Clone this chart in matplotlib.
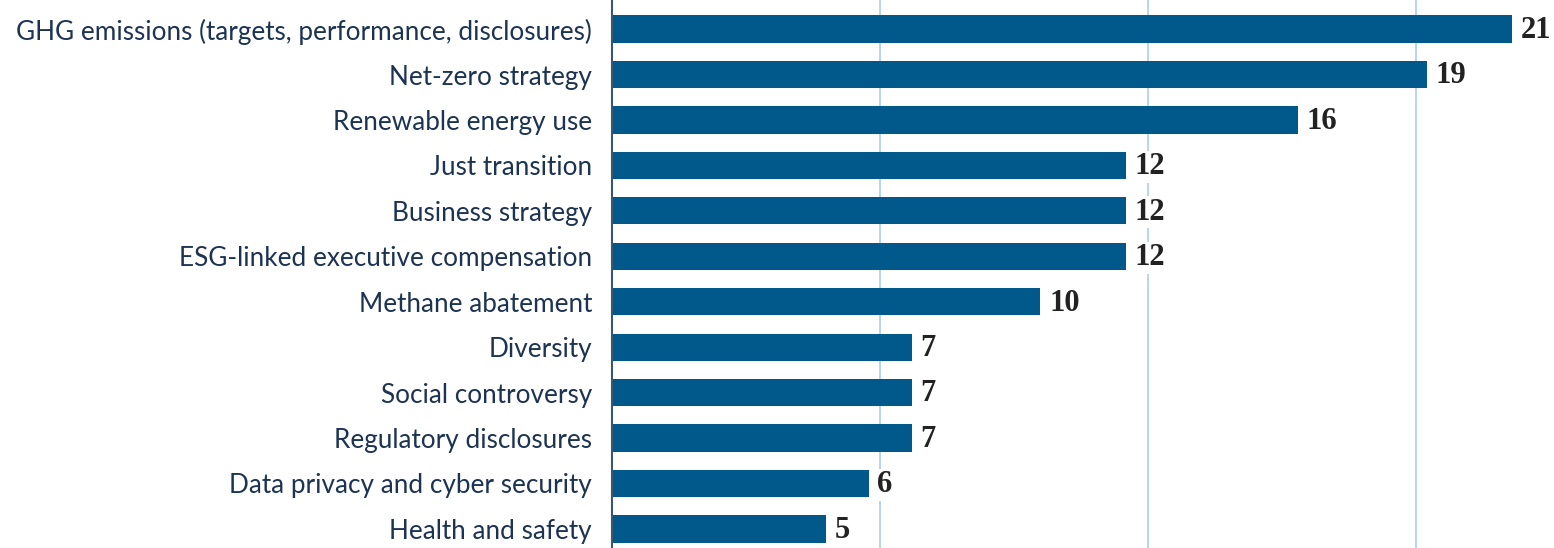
import matplotlib.pyplot as plt

categories = [
    "GHG emissions (targets, performance, disclosures)",
    "Net-zero strategy",
    "Renewable energy use",
    "Just transition",
    "Business strategy",
    "ESG-linked executive compensation",
    "Methane abatement",
    "Diversity",
    "Social controversy",
    "Regulatory disclosures",
    "Data privacy and cyber security",
    "Health and safety",
]
values = [21, 19, 16, 12, 12, 12, 10, 7, 7, 7, 6, 5]
grid_ticks = [6.25, 12.5, 18.75]

bar_color = "#00598a"
label_color = "#1c3352"

fig = plt.figure(figsize=(15.54, 5.48), dpi=100)
ax = fig.add_axes([611.5 / 1554, 0, 1 - 611.5 / 1554, 1])

pos = list(range(len(categories)))
ax.barh(pos, values, height=0.6, color=bar_color, zorder=2)

for p, v in zip(pos, values):
    ax.text(v + 0.2, p + 0.03, str(v), va="center", ha="left",
            family="Liberation Serif", fontweight="bold", fontsize=22,
            color="#222222", zorder=3,
            bbox=dict(facecolor="white", edgecolor="none", pad=1))

ax.set_xlim(0, 21.97)
ax.set_ylim(11.42, -0.64)
ax.set_yticks(pos)
ax.set_yticklabels(categories, family="Lato", fontsize=18.8, color=label_color)
ax.set_xticks(grid_ticks)
ax.tick_params(axis="y", length=0, pad=14)
ax.tick_params(axis="x", length=0, labelbottom=False)
ax.grid(axis="x", color="#a8cfea", linewidth=1.2, zorder=0)
ax.set_axisbelow(True)

for s in ["top", "right", "bottom"]:
    ax.spines[s].set_visible(False)
ax.spines["left"].set_color("#3d5670")
ax.spines["left"].set_linewidth(1.5)

fig.savefig("out.png", dpi=100)
